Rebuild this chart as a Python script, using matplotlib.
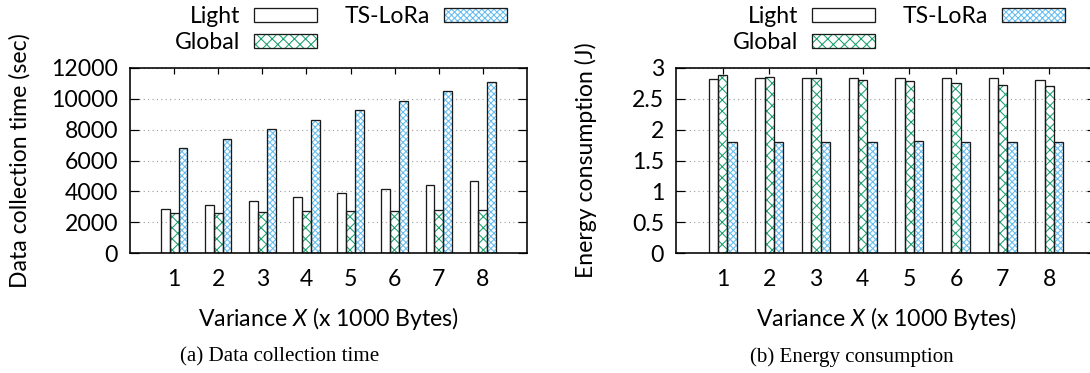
import matplotlib

matplotlib.use("Agg")
import matplotlib.pyplot as plt
import numpy as np
from matplotlib.legend_handler import HandlerTuple
from matplotlib.patches import Patch

# figure is drawn at 200 dpi so hatch spacing can be tuned; sizes below are in pixels
DPI = 200
PX = 72 / DPI

variance = [1, 2, 3, 4, 5, 6, 7, 8]
series = ["Light", "Global", "TS-LoRa"]

light_time = [2840, 3120, 3380, 3640, 3900, 4140, 4400, 4660]
global_time = [2600, 2625, 2670, 2710, 2755, 2755, 2800, 2820]
ts_time = [6790, 7400, 8030, 8630, 9260, 9870, 10500, 11110]

light_energy = [2.82, 2.83, 2.83, 2.83, 2.84, 2.83, 2.83, 2.81]
global_energy = [2.88, 2.85, 2.83, 2.80, 2.79, 2.76, 2.73, 2.71]
ts_energy = [1.80, 1.80, 1.80, 1.80, 1.81, 1.80, 1.80, 1.80]

time_ticks = [0, 2000, 4000, 6000, 8000, 10000, 12000]
energy_ticks = [0, 0.5, 1, 1.5, 2, 2.5, 3]
energy_ticklabels = ["0", "0.5", "1", "1.5", "2", "2.5", "3"]

STYLE = {
    "Light": dict(color="white", hatch=None),
    "Global": dict(color="#1aa06e", hatch="x" * 6),
    "TS-LoRa": dict(color="#66bdf0", hatch="x" * 11),
}
EDGE = "#1a1a1a"
FS = 23 * PX

plt.rcParams.update({
    "font.family": ["Lato", "DejaVu Sans"],
    "mathtext.fontset": "custom",
    "mathtext.rm": "Lato",
    "mathtext.it": "Lato:italic",
    "hatch.linewidth": 1.05 * PX,
})


def draw_bars(ax, values_list):
    x = np.asarray(variance, dtype=float)
    width = 0.2
    for k, (name, vals) in enumerate(zip(series, values_list)):
        st = STYLE[name]
        pos = x + (k - 1) * width
        if st["hatch"]:
            ax.bar(pos, vals, width, facecolor="white", edgecolor=st["color"],
                   hatch=st["hatch"], linewidth=0, zorder=2)
        ax.bar(pos, vals, width, fill=False, edgecolor=EDGE,
               linewidth=1.3 * PX, zorder=3)


def style_axes(ax, ylabel, label_x):
    ax.set_xlim(0, 9)
    ax.set_xticks(variance)
    ax.tick_params(direction="in", top=True, right=True, labelsize=FS,
                   width=1.2 * PX)
    ax.tick_params(axis="y", length=9 * PX, pad=12 * PX)
    ax.tick_params(axis="x", length=6 * PX, pad=16 * PX)
    ax.yaxis.grid(True, linestyle=(0, (1, 3)), color="#9a9a9a",
                  linewidth=1.1 * PX)
    ax.set_axisbelow(True)
    for sp in ax.spines.values():
        sp.set_linewidth(1.6 * PX)
        sp.set_zorder(5)
    ax.set_xlabel(r"Variance $X$ (x 1000 Bytes)", fontsize=FS, va="center")
    ax.xaxis.set_label_coords(0.5, -0.355)
    ax.set_ylabel(ylabel, fontsize=FS, va="center")
    ax.yaxis.set_label_coords(label_x, 0.5)


def add_legend(fig, x_px, y_px):
    handles = []
    for name in series:
        st = STYLE[name]
        outline = Patch(fill=False, edgecolor=EDGE, linewidth=1.3 * PX)
        if st["hatch"]:
            fill = Patch(facecolor="white", edgecolor=st["color"],
                         hatch=st["hatch"], linewidth=0)
            handles.append((fill, outline))
        else:
            handles.append((outline,))
    fig.legend(handles, series, loc="upper left",
               bbox_to_anchor=(x_px / 1090, 1 - y_px / 373),
               ncol=2, frameon=False, markerfirst=False, fontsize=FS,
               handlelength=2.75, handleheight=0.52, handletextpad=0.6,
               columnspacing=1.2, labelspacing=0.22, borderpad=0,
               borderaxespad=0,
               handler_map={tuple: HandlerTuple(ndivide=1, pad=0)})


fig = plt.figure(figsize=(1090 / DPI, 373 / DPI), dpi=DPI)
ax1 = fig.add_axes([130 / 1090, 120 / 373, 397 / 1090, 185 / 373])
ax2 = fig.add_axes([676 / 1090, 120 / 373, 420 / 1090, 185 / 373])

draw_bars(ax1, [light_time, global_time, ts_time])
ax1.set_ylim(0, 12000)
ax1.set_yticks(time_ticks)
style_axes(ax1, "Data collection time (sec)", -0.277)

draw_bars(ax2, [light_energy, global_energy, ts_energy])
ax2.set_ylim(0, 3)
ax2.set_yticks(energy_ticks, energy_ticklabels)
style_axes(ax2, "Energy consumption (J)", -0.215)

add_legend(fig, 175, 6)
add_legend(fig, 733, 6)

cap_font = ["Liberation Serif", "DejaVu Serif"]
fig.text(280 / 1090, 1 - 357 / 373, "(a) Data collection time",
         ha="center", va="center", fontsize=21 * PX, family=cap_font)
fig.text(852 / 1090, 1 - 357 / 373, "(b) Energy consumption",
         ha="center", va="center", fontsize=21 * PX, family=cap_font)

fig.savefig("out.png", dpi=DPI)
